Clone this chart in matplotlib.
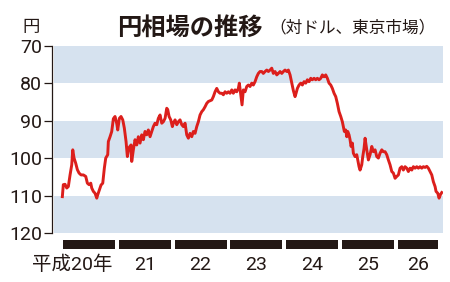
#!/usr/bin/env python3
"""円相場の推移 (対ドル、東京市場) — recreated line chart."""
import matplotlib

matplotlib.use("Agg")
import matplotlib.pyplot as plt  # noqa: E402

# months elapsed since Jan 2008 and yen per dollar
months = [
    0.28, 0.49, 0.86, 1.23, 1.57, 1.94, 2.30, 2.52, 2.80, 3.16, 3.51, 3.87,
    4.30, 4.80, 5.31, 5.66, 6.02, 6.39, 6.60, 6.95, 7.31, 7.68, 7.89, 8.24,
    8.60, 8.97, 9.31, 9.61, 10.04, 10.17, 10.54, 10.90, 11.25, 11.61, 11.98,
    12.19, 12.54, 12.90, 13.27, 13.61, 13.98, 14.26, 14.62, 15.05, 15.20,
    15.55, 15.91, 16.28, 16.62, 16.99, 17.35, 17.70, 18.06, 18.43, 18.77,
    19.14, 19.50, 19.85, 20.21, 20.58, 20.92, 21.29, 21.66, 22.00, 22.37,
    22.73, 22.95, 23.23, 23.59, 23.94, 24.15, 24.52, 24.88, 25.23, 25.59,
    25.96, 26.30, 26.67, 27.03, 27.38, 27.74, 28.11, 28.45, 28.82, 29.18,
    29.53, 29.89, 30.26, 30.60, 30.97, 31.33, 31.68, 32.04, 32.41, 32.75,
    33.12, 33.48, 33.83, 34.19, 34.56, 34.90, 35.27, 35.63, 35.98, 36.34,
    36.71, 37.05, 37.42, 37.78, 38.13, 38.34, 38.64, 38.92, 39.20, 39.57,
    39.93, 40.28, 40.64, 41.01, 41.35, 41.72, 42.08, 42.43, 42.79, 43.16,
    43.50, 43.87, 44.24, 44.58, 44.95, 45.31, 45.65, 46.02, 46.39, 46.73,
    47.10, 47.46, 47.81, 48.17, 48.54, 48.88, 49.25, 49.61, 49.96, 50.32,
    50.54, 50.82, 51.18, 51.55, 51.89, 52.26, 52.62, 52.97, 53.33, 53.70,
    54.04, 54.41, 54.77, 55.12, 55.48, 55.85, 56.19, 56.56, 56.92, 57.27,
    57.63, 58.00, 58.34, 58.71, 59.07, 59.42, 59.78, 60.15, 60.49, 60.71,
    60.92, 61.22, 61.44, 61.65, 61.93, 62.15, 62.36, 62.64, 62.86, 63.22,
    63.59, 63.80, 64.08, 64.30, 64.66, 64.88, 65.16, 65.38, 65.74, 66.09,
    66.45, 66.82, 67.16, 67.53, 67.89, 68.24, 68.60, 68.97, 69.31, 69.68,
    70.04, 70.39, 70.75, 71.12, 71.46, 71.83, 72.19, 72.54, 72.90, 73.27,
    73.61, 73.98, 74.34, 74.69, 75.05, 75.42, 75.76, 76.13, 76.49, 76.84,
    77.20, 77.57, 77.91, 78.28, 78.64, 78.99, 79.35, 79.72, 80.06, 80.43,
    80.64, 81.01, 81.29, 81.57, 81.87,
]
yen = [
    110.3, 107.1, 107.0, 108.0, 107.6, 104.5, 101.8, 97.8, 100.0, 101.4, 103.1, 104.0,
    104.5, 104.5, 104.9, 106.7, 107.1, 106.7, 108.0, 108.9, 109.4, 110.7, 109.8, 108.5,
    107.2, 106.7, 102.7, 100.0, 99.1, 95.6, 94.3, 92.9, 89.5, 88.9, 90.8,
    92.5, 89.4, 88.9, 89.8, 92.0, 95.6, 99.6, 97.2, 96.5, 100.9,
    97.8, 95.1, 96.5, 94.3, 96.0, 93.8, 95.1, 92.9, 93.8, 92.5,
    94.3, 92.9, 91.6, 90.7, 91.1, 89.4, 88.5, 90.7, 90.3, 89.4,
    86.7, 87.1, 88.9, 89.8, 91.6, 90.7, 89.8, 91.1, 90.3, 89.8,
    91.1, 91.6, 90.7, 93.8, 94.7, 93.4, 94.3, 92.9, 93.4, 91.6,
    90.3, 88.5, 87.6, 87.1, 86.3, 85.4, 84.9, 84.7, 84.5, 83.6,
    82.3, 81.4, 82.3, 82.7, 82.7, 83.1, 82.3, 82.7, 82.3, 82.7,
    81.8, 82.7, 81.8, 82.3, 81.4, 80.0, 83.1, 85.8, 81.8, 82.3,
    80.9, 80.5, 80.9, 80.0, 80.5, 79.6, 78.3, 77.4, 76.9, 76.9,
    77.4, 76.9, 76.5, 76.9, 76.5, 76.0, 77.4, 76.9, 77.8, 77.4,
    76.9, 77.4, 76.9, 76.5, 76.9, 76.5, 77.8, 80.0, 82.0, 83.6,
    82.7, 81.4, 80.5, 80.0, 80.5, 79.6, 80.0, 79.1, 79.6, 78.7,
    79.1, 78.7, 79.1, 78.7, 79.1, 78.7, 77.8, 78.3, 77.8, 78.7,
    80.0, 80.5, 81.4, 82.7, 83.6, 85.4, 87.6, 88.9, 90.3, 91.6,
    92.9, 92.5, 94.3, 92.9, 93.8, 95.1, 96.9, 96.0, 98.7, 99.6,
    99.1, 100.5, 102.3, 103.2, 101.8, 99.6, 97.4, 94.7, 97.8, 100.5,
    99.1, 96.9, 98.3, 97.8, 99.6, 100.0, 98.7, 97.8, 98.3, 98.3,
    99.1, 100.5, 101.8, 103.6, 104.0, 105.4, 104.9, 104.5, 102.7, 102.3,
    103.2, 102.3, 102.7, 103.6, 102.7, 103.2, 102.3, 102.7, 102.3, 102.7,
    102.3, 102.7, 102.3, 102.5, 102.2, 102.7, 103.6, 104.5, 106.3, 107.6,
    108.9, 109.4, 110.7, 109.8, 109.2,
]

yticks = [70, 80, 90, 100, 110, 120]
bands = [(70, 80), (90, 100), (110, 120)]
years = ["平成20年", "21", "22", "23", "24", "25", "26"]

RED = "#dc1f1c"
INK = "#231815"
BAND = "#d6e2ef"
NUM = ["Roboto", "Noto Sans CJK JP"]

fig = plt.figure(figsize=(4.5, 2.82), dpi=100)
ax = fig.add_axes([0.1156, 0.1738, 0.869, 0.6642])

for lo, hi in bands:
    ax.axhspan(lo, hi, xmin=0.005, xmax=1, color=BAND, lw=0, zorder=0)

ax.plot(months, yen, color=RED, lw=2.1, solid_joinstyle="round", zorder=3)

ax.set_xlim(-1.94, 82.15)
ax.set_ylim(120, 70)
ax.set_yticks(yticks)
ax.set_yticklabels([str(v) for v in yticks], fontfamily=NUM, fontsize=14, color=INK)
ax.tick_params(axis="y", length=6, width=0.9, pad=1, color=INK)
ax.set_xticks([])
for side in ("top", "right", "bottom"):
    ax.spines[side].set_visible(False)
ax.spines["left"].set_color(INK)
ax.spines["left"].set_linewidth(0.9)

# year strip below the plot area
last = months[-1] - 0.8
for i, label in enumerate(years):
    start = 12 * i + 0.4
    end = min(12 * i + 11.6, last)
    ax.bar(start, 2.2, width=end - start, bottom=122.0, align="edge",
           color=INK, lw=0, clip_on=False)
    if i == 0:
        ax.text(end - 0.5, 128.6, label, ha="right", va="center", fontsize=14,
                family=NUM, color=INK, clip_on=False)
    else:
        ax.text((start + end) / 2, 128.6, label, ha="center", va="center",
                fontsize=14, family=NUM, color=INK, clip_on=False)

fig.text(0.049, 0.905, "円", fontsize=12.5, family="Noto Sans CJK JP",
         color=INK, va="center")
fig.text(0.26, 0.9, "円相場の推移", fontsize=17.5, family="Noto Sans CJK JP",
         weight="bold", color=INK, va="center")
fig.text(0.598, 0.9, "（対ドル、東京市場）", fontsize=12, family="Noto Sans CJK JP",
         color=INK, va="center")

fig.savefig("out.png", dpi=100)
